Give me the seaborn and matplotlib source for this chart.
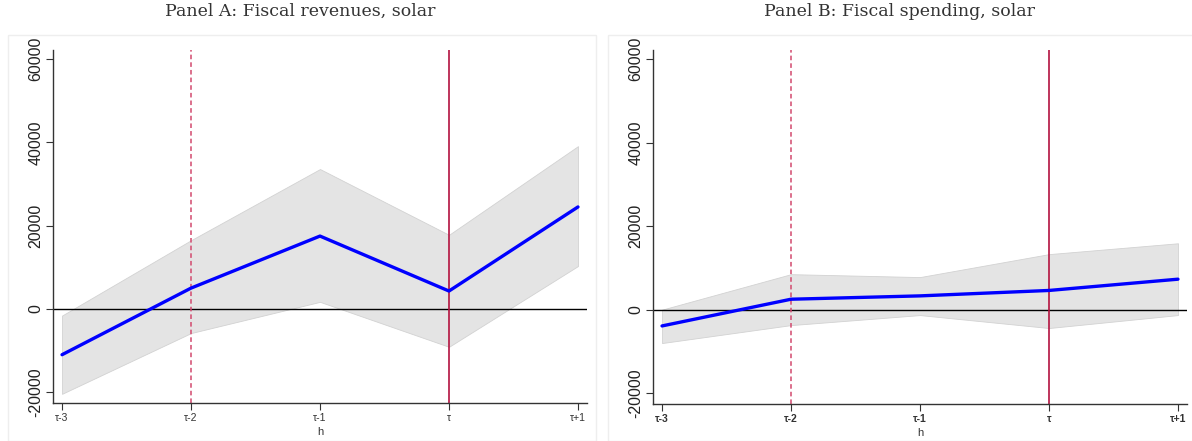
import numpy as np
import pandas as pd
import seaborn as sns
import matplotlib.pyplot as plt
from matplotlib.patches import Rectangle

h_labels = ["τ-3", "τ-2", "τ-1", "τ", "τ+1"]
h = [0, 1, 2, 3, 4]

rev_coef = [-11000, 5000, 17500, 4300, 24500]
rev_lo = [-20400, -5800, 1700, -9100, 10300]
rev_hi = [-1600, 16500, 33600, 17800, 39100]

sp_coef = [-3900, 2500, 3300, 4600, 7300]
sp_lo = [-8000, -3700, -1300, -4400, -1300]
sp_hi = [0, 8500, 7800, 13300, 15900]

titles = ["Panel A: Fiscal revenues, solar", "Panel B: Fiscal spending, solar"]
yticks = [-20000, 0, 20000, 40000, 60000]

sns.set_theme(style="white")
plt.rcParams['font.family'] = ['Liberation Sans', 'DejaVu Sans']

fig = plt.figure(figsize=(11.92, 4.41), dpi=100)
axA = fig.add_axes([53/1192, 1-403/441, 534/1192, 353/441])
axB = fig.add_axes([653/1192, 1-404/441, 534/1192, 354/441])

# faint panel frames
fig.patches.append(Rectangle((8/1192, 0.0), 588/1192, 1-35/441, transform=fig.transFigure,
                             fill=False, edgecolor="#eeeeee", linewidth=1))
fig.patches.append(Rectangle((608/1192, 0.0), 590/1192, 1-35/441, transform=fig.transFigure,
                             fill=False, edgecolor="#eeeeee", linewidth=1))

panels = [(axA, rev_coef, rev_lo, rev_hi, False), (axB, sp_coef, sp_lo, sp_hi, True)]
for i, (ax, coef, lo, hi, bold) in enumerate(panels):
    df = pd.DataFrame({"h": h, "coef": coef, "lo": lo, "hi": hi})
    ax.fill_between(df["h"], df["lo"], df["hi"], color="#e4e4e4", edgecolor="#d2d2d2",
                    linewidth=0.6, zorder=1)
    ax.axhline(0, color="black", linewidth=1.0, zorder=2)
    ax.axvline(1, color="#d2496e", linewidth=1.1, linestyle=(0, (3, 2)), zorder=2)
    ax.axvline(3, color="#b3123f", linewidth=1.2, zorder=2)
    sns.lineplot(data=df, x="h", y="coef", ax=ax, color="#0000ff", linewidth=2.4, zorder=3)
    ax.set_xlim(-0.07, 4.07)
    ax.set_ylim(-22600, 62200)
    ax.set_yticks(yticks)
    ax.set_yticklabels([str(v) for v in yticks], rotation=90, va="center", fontsize=11.5,
                       color="#222222")
    ax.set_xticks(h)
    ax.set_xticklabels(h_labels, fontsize=7.5, color="#333333",
                       fontweight="bold" if bold else "normal")
    ax.set_xlabel("h", fontsize=8, color="#333333", labelpad=3)
    ax.set_ylabel("")
    for s in ["top", "right"]:
        ax.spines[s].set_visible(False)
    for s in ["left", "bottom"]:
        ax.spines[s].set_color("#333333")
        ax.spines[s].set_linewidth(1.0)
    ax.tick_params(axis="both", which="both", direction="out", length=5, width=0.8,
                   color="#333333", bottom=True, left=True)
    ax.tick_params(axis="y", pad=2)
    ax.tick_params(axis="x", pad=2)
    ax.set_facecolor("white")

fig.text(300/1192, 1-11/441, titles[0], ha="center", va="center", fontsize=12.5,
         family=["DejaVu Serif"], color="#333333")
fig.text(900/1192, 1-11/441, titles[1], ha="center", va="center", fontsize=12.5,
         family=["DejaVu Serif"], color="#333333")

fig.savefig("out.png", dpi=100)
